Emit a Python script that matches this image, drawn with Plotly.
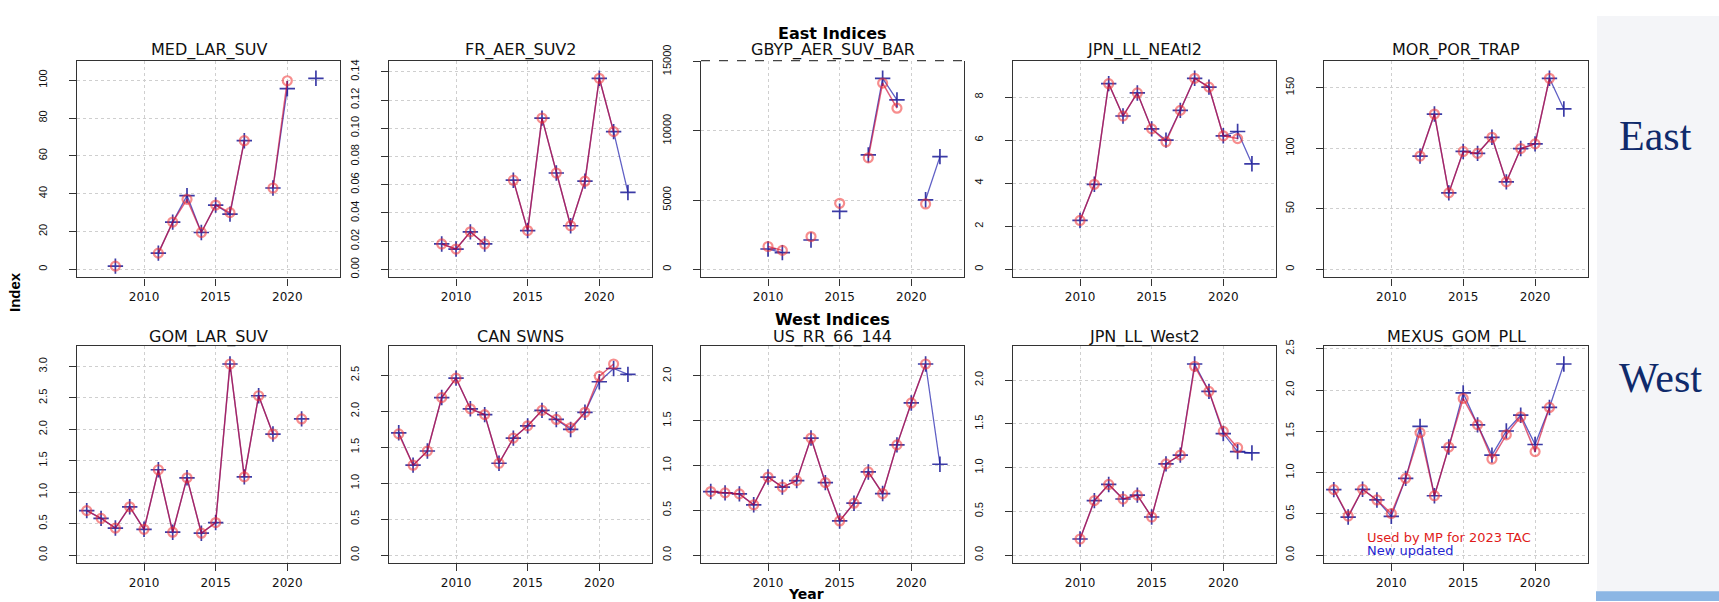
import plotly.graph_objects as go

N = None
years = list(range(2006, 2023))
x_ticks = [2010, 2015, 2020]

titles = ["MED_LAR_SUV", "FR_AER_SUV2", "GBYP_AER_SUV_BAR", "JPN_LL_NEAtl2", "MOR_POR_TRAP",
          "GOM_LAR_SUV", "CAN SWNS", "US_RR_66_144", "JPN_LL_West2", "MEXUS_GOM_PLL"]

# ---- "Used by MP for 2023 TAC" (red) and "New updated" (blue), years 2006..2022 ----
med_lar_suv_used = [N, N, 1.7, N, N, 8.6, 25, 37, 19.5, 34, 30, 68, N, 43, 99.7, N, N]
med_lar_suv_new  = [N, N, 1.7, N, N, 8.6, 25, 39, 19.5, 34, 29.2, 68, N, 43, 95.5, N, 101]

fr_aer_suv2_used = [N, N, N, 0.018, 0.0144, 0.0266, 0.018, N, 0.0632, 0.0275, 0.1072, 0.0683, 0.0309, 0.0625, 0.1354, 0.0976, N]
fr_aer_suv2_new  = [N, N, N, 0.018, 0.0144, 0.0266, 0.018, N, 0.0632, 0.0275, 0.1072, 0.0683, 0.0309, 0.0625, 0.1354, 0.0976, 0.0545]

gbyp_used = [N, N, N, N, 1650, 1370, N, 2370, N, 4770, N, 8050, 13440, 11630, N, 4720, N]
gbyp_new  = [N, N, N, N, 1470, 1210, N, 2120, N, 4190, N, 8260, 13790, 12230, N, 5020, 8140]

jpn_neatl_used = [N, N, N, N, 2.27, 3.95, 8.62, 7.12, 8.19, 6.52, 5.92, 7.38, 8.87, 8.46, 6.2, 6.07, N]
jpn_neatl_new  = [N, N, N, N, 2.27, 3.95, 8.62, 7.12, 8.19, 6.52, 6.0, 7.38, 8.87, 8.46, 6.2, 6.4, 4.9]

mor_por_used = [N, N, N, N, N, N, 93.5, 128.2, 63.1, 97.3, 95.7, 109, 72.2, 99.7, 103.6, 157.7, N]
mor_por_new  = [N, N, N, N, N, N, 93.5, 128.2, 63.1, 97.3, 95.7, 109, 72.2, 99.7, 103.6, 157.7, 132.4]

gom_lar_used = [0.707, 0.584, 0.43, 0.768, 0.41, 1.357, 0.364, 1.229, 0.348, 0.517, 3.04, 1.244, 2.535, 1.925, N, 2.166, N]
gom_lar_new  = [0.707, 0.584, 0.43, 0.768, 0.41, 1.357, 0.364, 1.229, 0.348, 0.517, 3.04, 1.244, 2.535, 1.925, N, 2.166, N]

can_swns_used = [1.685, 1.25, 1.447, 2.19, 2.46, 2.034, 1.953, 1.277, 1.626, 1.797, 2.012, 1.886, 1.77, 1.985, 2.487, 2.657, N]
can_swns_new  = [1.70, 1.25, 1.447, 2.19, 2.46, 2.034, 1.953, 1.277, 1.626, 1.797, 2.012, 1.886, 1.747, 1.985, 2.41, 2.594, 2.513]

us_rr_used = [0.709, 0.694, 0.683, 0.561, 0.871, 0.759, 0.831, 1.306, 0.809, 0.381, 0.579, 0.928, 0.687, 1.23, 1.698, 2.133, N]
us_rr_new  = [0.709, 0.694, 0.683, 0.561, 0.871, 0.759, 0.831, 1.306, 0.809, 0.381, 0.579, 0.928, 0.687, 1.23, 1.698, 2.133, 1.014]

jpn_west_used = [N, N, N, N, 0.184, 0.622, 0.807, 0.641, 0.685, 0.435, 1.042, 1.142, 2.158, 1.871, 1.414, 1.227, N]
jpn_west_new  = [N, N, N, N, 0.184, 0.622, 0.807, 0.641, 0.685, 0.435, 1.042, 1.142, 2.184, 1.871, 1.389, 1.182, 1.168]

mexus_used = [0.793, 0.473, 0.797, 0.668, 0.504, 0.93, 1.484, 0.719, 1.309, 1.898, 1.578, 1.164, 1.457, 1.676, 1.254, 1.789, N]
mexus_new  = [0.793, 0.461, 0.797, 0.668, 0.469, 0.93, 1.559, 0.719, 1.309, 1.965, 1.578, 1.211, 1.504, 1.695, 1.34, 1.789, 2.316]

used_series = [med_lar_suv_used, fr_aer_suv2_used, gbyp_used, jpn_neatl_used, mor_por_used,
               gom_lar_used, can_swns_used, us_rr_used, jpn_west_used, mexus_used]
new_series = [med_lar_suv_new, fr_aer_suv2_new, gbyp_new, jpn_neatl_new, mor_por_new,
              gom_lar_new, can_swns_new, us_rr_new, jpn_west_new, mexus_new]

y_ticks = [
    [0, 20, 40, 60, 80, 100],
    [0, 0.02, 0.04, 0.06, 0.08, 0.10, 0.12, 0.14],
    [0, 5000, 10000, 15000],
    [0, 2, 4, 6, 8],
    [0, 50, 100, 150],
    [0, 0.5, 1.0, 1.5, 2.0, 2.5, 3.0],
    [0, 0.5, 1.0, 1.5, 2.0, 2.5],
    [0, 0.5, 1.0, 1.5, 2.0],
    [0, 0.5, 1.0, 1.5, 2.0],
    [0, 0.5, 1.0, 1.5, 2.0, 2.5],
]
y_fmt = ["d", ".2f", "d", "d", "d", ".1f", ".1f", ".1f", ".1f", ".1f"]

# ---- layout geometry (pixels) ----
W, H = 1719, 602
col_px = [(77, 340), (389, 652), (701, 964), (1013, 1276), (1324, 1588)]
row_px = [(46, 269), (340, 563)]

RED_LINE = "rgba(205,0,45,0.62)"
RED_MARK = "rgba(240,50,50,0.55)"
BLUE_LINE = "rgba(35,35,175,0.72)"
BLUE_MARK = "rgba(25,25,150,0.85)"

fig = go.Figure()
layout = {}
annotations = []
shapes = []

for i in range(10):
    r, c = divmod(i, 5)
    k = "" if i == 0 else str(i + 1)
    xa, ya = "x" + k, "y" + k
    x0, x1 = col_px[c]
    t0, t1 = row_px[r]
    vals = [v for v in used_series[i] + new_series[i] if v is not None]
    M = 1.05 * max(vals)
    yrange = [-0.04 * M, 1.04 * M]

    fig.add_trace(go.Scatter(
        x=years, y=new_series[i], xaxis=xa, yaxis=ya, mode="lines+markers",
        line=dict(color=BLUE_LINE, width=1.3),
        marker=dict(symbol="cross-thin", size=11, color=BLUE_MARK,
                    line=dict(color=BLUE_MARK, width=1.7)),
        showlegend=False, hoverinfo="x+y"))
    fig.add_trace(go.Scatter(
        x=years, y=used_series[i], xaxis=xa, yaxis=ya, mode="lines+markers",
        line=dict(color=RED_LINE, width=1.5),
        marker=dict(symbol="circle-open", size=9, color=RED_MARK,
                    line=dict(color=RED_MARK, width=2.2)),
        showlegend=False, hoverinfo="x+y"))

    axis_common = dict(showline=True, linecolor="#333333", linewidth=1.4, mirror=True,
                       ticks="outside", ticklen=7, tickwidth=1.2, tickcolor="#333333",
                       showgrid=True, gridcolor="#cfcfcf", griddash="dot", gridwidth=1,
                       zeroline=False)
    xax = dict(
        axis_common, domain=[x0 / W, x1 / W], anchor=ya, range=[2005.32, 2023.68],
        tickvals=x_ticks, ticktext=[str(t) for t in x_ticks],
        tickfont=dict(family="DejaVu Sans", size=12, color="#111111"),
        ticklabelstandoff=1)
    if i == 2:
        # this panel's top border is drawn dashed in the original
        xax["mirror"] = False
        shapes.append(dict(type="line", xref="paper", yref="paper", x0=x0 / W, x1=x1 / W,
                           y0=1 - t0 / H, y1=1 - t0 / H,
                           line=dict(color="#444444", width=1.3, dash="dash")))
    layout["xaxis" + k] = xax
    layout["yaxis" + k] = dict(
        axis_common, domain=[1 - t1 / H, 1 - t0 / H], anchor=xa, range=yrange,
        tickvals=y_ticks[i],
        ticktext=[(format(v, y_fmt[i]) if y_fmt[i] != "d" else str(int(v))) for v in y_ticks[i]],
        tickangle=-90, tickfont=dict(family="Liberation Sans", size=11, color="#111111"),
        ticklabelstandoff=17)

    title_y = 35 if r == 0 else 330
    annotations.append(dict(text=titles[i], x=(x0 + x1) / 2 / W, y=1 - title_y / H,
                            xref="paper", yref="paper", showarrow=False,
                            xanchor="center", yanchor="middle",
                            font=dict(family="DejaVu Sans", size=16, color="#111111")))

# section headers
annotations.append(dict(text="<b>East Indices</b>", x=832.5 / W, y=1 - 18 / H, xref="paper", yref="paper",
                        showarrow=False, xanchor="center", yanchor="middle",
                        font=dict(family="DejaVu Sans", size=16, color="#000000")))
annotations.append(dict(text="<b>West Indices</b>", x=832.5 / W, y=1 - 312 / H, xref="paper", yref="paper",
                        showarrow=False, xanchor="center", yanchor="middle",
                        font=dict(family="DejaVu Sans", size=16, color="#000000")))
annotations.append(dict(text="<b>Year</b>", x=806 / W, y=1 - 595 / H, xref="paper", yref="paper",
                        showarrow=False, xanchor="center", yanchor="middle",
                        font=dict(family="DejaVu Sans", size=14, color="#000000")))
annotations.append(dict(text="<b>Index</b>", x=15 / W, y=1 - 284 / H, xref="paper", yref="paper",
                        showarrow=False, xanchor="center", yanchor="middle", textangle=-90,
                        font=dict(family="Liberation Sans", size=15, color="#000000")))
# side labels
annotations.append(dict(text="East", x=1617 / W, y=1 - 123 / H, xref="paper", yref="paper",
                        showarrow=False, xanchor="left", yanchor="middle",
                        font=dict(family="Liberation Serif", size=42, color="#0f2a6b")))
annotations.append(dict(text="West", x=1617 / W, y=1 - 373 / H, xref="paper", yref="paper",
                        showarrow=False, xanchor="left", yanchor="middle",
                        font=dict(family="Liberation Serif", size=42, color="#0f2a6b")))
# legend text
annotations.append(dict(text="Used by MP for 2023 TAC", x=1365 / W, y=1 - 537 / H, xref="paper", yref="paper",
                        showarrow=False, xanchor="left", yanchor="middle",
                        font=dict(family="DejaVu Sans", size=13, color="#e01b1b")))
annotations.append(dict(text="New updated", x=1365 / W, y=1 - 550 / H, xref="paper", yref="paper",
                        showarrow=False, xanchor="left", yanchor="middle",
                        font=dict(family="DejaVu Sans", size=13, color="#2424d0")))

# right-hand decorative panel and bottom bar
shapes.append(dict(type="rect", xref="paper", yref="paper", x0=1597 / W, x1=1, y0=0, y1=1,
                   fillcolor="#f4f5f8", line=dict(width=0), layer="below"))
shapes.append(dict(type="rect", xref="paper", yref="paper", x0=1596 / W, x1=1, y0=0, y1=10 / H,
                   fillcolor="#8cb6e4", line=dict(width=0), layer="below"))

fig.update_layout(
    width=W, height=H, autosize=False,
    margin=dict(l=0, r=0, t=0, b=0),
    paper_bgcolor="white", plot_bgcolor="white",
    annotations=annotations, shapes=shapes,
    **layout)

fig.write_html("out.html", config={"displayModeBar": False},
               post_script="document.body.style.margin='0';document.body.style.overflow='hidden';")
